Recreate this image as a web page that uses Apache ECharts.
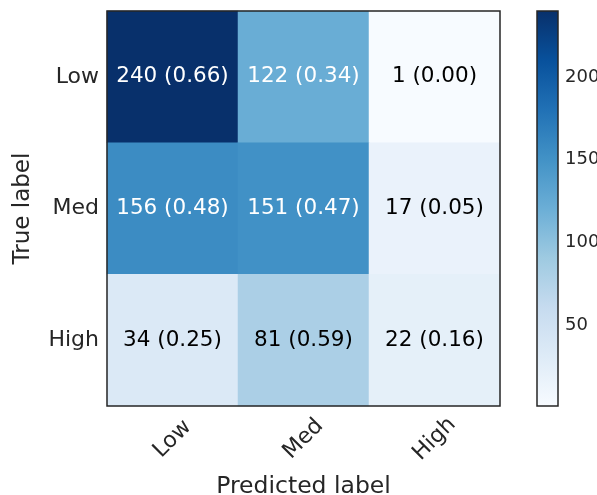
<!DOCTYPE html>
<html>
<head>
<meta charset="utf-8">
<script src="https://cdn.jsdelivr.net/npm/echarts@6/dist/echarts.min.js"></script>
<style>
  html, body { margin: 0; padding: 0; background: #fff; }
  #chart { width: 597px; height: 495px; }
</style>
</head>
<body>
<div id="chart"></div>
<script>
// Class names on both axes
const categories = ['Low', 'Med', 'High'];
// Counts: rows = true label, columns = predicted label
const counts = [
  [240, 122, 1],
  [156, 151, 17],
  [34, 81, 22]
];
// Row-normalised rates
const rates = [
  [0.66, 0.34, 0.00],
  [0.48, 0.47, 0.05],
  [0.25, 0.59, 0.16]
];
// Colour bar range and tick labels
const colorMin = 1;
const colorMax = 240;
const colorTicks = [50, 100, 150, 200];

// matplotlib "Blues" colour map stops
const blues = ['#f7fbff', '#deebf7', '#c6dbef', '#9ecae1', '#6baed6',
               '#4292c6', '#2171b5', '#08519c', '#08306b'];

const FONT = 'DejaVu Sans';
const TEXT = '#262626';
const threshold = colorMax / 2;

const cells = [];
counts.forEach((row, r) => {
  row.forEach((v, c) => {
    cells.push({
      value: [c, r, v],
      label: { color: v > threshold ? '#ffffff' : '#000000' }
    });
  });
});

const chart = echarts.init(document.getElementById('chart'), null, { renderer: 'canvas' });

chart.setOption({
  animation: false,
  backgroundColor: '#ffffff',
  textStyle: { fontFamily: FONT },
  grid: [
    { left: 107, top: 11, width: 393, height: 395, show: true, outerBoundsMode: 'none',
      borderColor: TEXT, borderWidth: 1.5, backgroundColor: 'transparent', z: 5 },
    { left: 537, top: 11, width: 21, height: 395, show: true, outerBoundsMode: 'none',
      borderColor: TEXT, borderWidth: 1.5, backgroundColor: 'transparent', z: 5 }
  ],
  xAxis: [
    {
      gridIndex: 0, type: 'category', data: categories, position: 'bottom',
      axisLine: { show: false }, axisTick: { show: false }, splitLine: { show: false },
      axisLabel: { rotate: 45, align: 'center', verticalAlign: 'middle', margin: 33,
                   fontSize: 22, color: TEXT, fontFamily: FONT },
      name: 'Predicted label', nameLocation: 'middle', nameGap: 69,
      nameTextStyle: { fontSize: 23.5, color: TEXT, fontFamily: FONT }
    },
    {
      gridIndex: 1, type: 'value', min: 0, max: 1, show: false
    }
  ],
  yAxis: [
    {
      gridIndex: 0, type: 'category', data: categories, inverse: true,
      axisLine: { show: false }, axisTick: { show: false }, splitLine: { show: false },
      axisLabel: { margin: 8, fontSize: 22, color: TEXT, fontFamily: FONT },
      name: 'True label', nameLocation: 'middle', nameGap: 72,
      nameTextStyle: { fontSize: 23, color: TEXT, fontFamily: FONT }
    },
    {
      gridIndex: 1, type: 'value', min: colorMin, max: colorMax, position: 'right',
      axisLine: { show: false }, axisTick: { show: false }, splitLine: { show: false },
      axisLabel: { customValues: colorTicks, margin: 7, fontSize: 18, color: TEXT, fontFamily: FONT }
    }
  ],
  visualMap: {
    show: false, type: 'continuous', seriesIndex: 0,
    min: colorMin, max: colorMax, dimension: 2,
    inRange: { color: blues }
  },
  series: [
    {
      type: 'heatmap', xAxisIndex: 0, yAxisIndex: 0, data: cells,
      label: {
        show: true, fontSize: 21.5, fontFamily: FONT,
        formatter: p => `${p.value[2]} (${rates[p.value[1]][p.value[0]].toFixed(2)})`
      },
      itemStyle: { borderWidth: 0 },
      emphasis: { disabled: true }
    },
    {
      // colour bar: one rectangle spanning the colour range on its own axis
      type: 'custom', xAxisIndex: 1, yAxisIndex: 1,
      data: [[0, colorMin, 1, colorMax]],
      renderItem: (params, api) => {
        const p0 = api.coord([api.value(0), api.value(1)]);
        const p1 = api.coord([api.value(2), api.value(3)]);
        return {
          type: 'rect',
          shape: { x: p0[0], y: p1[1], width: p1[0] - p0[0], height: p0[1] - p1[1] },
          style: {
            fill: new echarts.graphic.LinearGradient(0, 1, 0, 0,
              blues.map((c, i) => ({ offset: i / (blues.length - 1), color: c })))
          }
        };
      },
      silent: true
    }
  ]
});
</script>
</body>
</html>
